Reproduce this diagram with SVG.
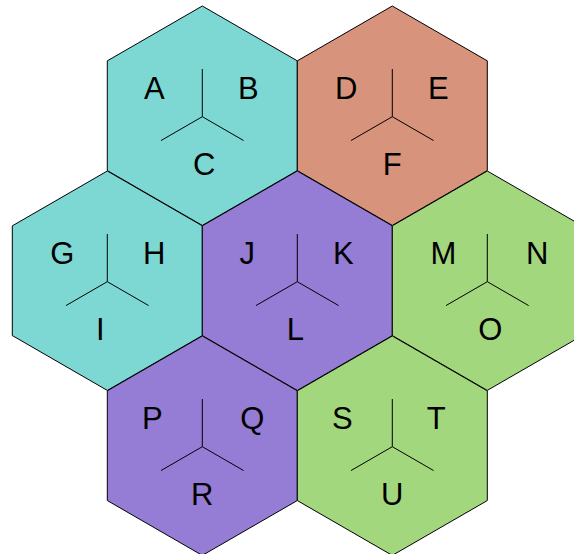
<svg xmlns="http://www.w3.org/2000/svg" width="574" height="554" viewBox="0 0 574 554">
<defs>
<style>
.hex{stroke:#000;stroke-width:1}
.teal{fill:#7dd8d4}.salmon{fill:#d7937b}.purple{fill:#957cd5}.green{fill:#a2d77d}
.y{stroke:#000;stroke-width:1;fill:none}
text{font-family:"Liberation Sans",Arial,sans-serif;font-size:31px;fill:#000;text-anchor:middle}
</style>
<polygon id="hx" points="0,-109.7 95,-54.85 95,54.85 0,109.7 -95,54.85 -95,-54.85"/>
<path id="yy" d="M0,-47.7V0M0,0L-41.3,23.85M0,0L41.3,23.85"/>
</defs>
<rect width="574" height="554" fill="#fff"/>
<g id="hex-ABC" transform="translate(202.3,115.7)">
<use href="#hx" class="hex teal"/><use href="#yy" class="y" transform="translate(0,1)"/>
<text x="-48" y="-17">A</text><text x="46" y="-17">B</text><text x="2" y="59">C</text>
</g>
<g id="hex-DEF" transform="translate(392.3,115.7)">
<use href="#hx" class="hex salmon"/><use href="#yy" class="y" transform="translate(0,1)"/>
<text x="-46" y="-17">D</text><text x="46" y="-17">E</text><text x="0" y="59">F</text>
</g>
<g id="hex-GHI" transform="translate(107.3,280.7)">
<use href="#hx" class="hex teal"/><use href="#yy" class="y" transform="translate(0,1)"/>
<text x="-45" y="-17">G</text><text x="47" y="-17">H</text><text x="-7" y="59">I</text>
</g>
<g id="hex-JKL" transform="translate(297.3,280.7)">
<use href="#hx" class="hex purple"/><use href="#yy" class="y" transform="translate(0,1)"/>
<text x="-50" y="-17">J</text><text x="46" y="-17">K</text><text x="-2" y="59">L</text>
</g>
<g id="hex-MNO" transform="translate(487.3,280.7)">
<use href="#hx" class="hex green"/><use href="#yy" class="y" transform="translate(0,1)"/>
<text x="-44" y="-17">M</text><text x="50" y="-17">N</text><text x="3" y="59">O</text>
</g>
<g id="hex-PQR" transform="translate(202.3,445.7)">
<use href="#hx" class="hex purple"/><use href="#yy" class="y" transform="translate(0,1)"/>
<text x="-50" y="-17">P</text><text x="50" y="-17">Q</text><text x="0" y="59">R</text>
</g>
<g id="hex-STU" transform="translate(392.3,445.7)">
<use href="#hx" class="hex green"/><use href="#yy" class="y" transform="translate(0,1)"/>
<text x="-50" y="-17">S</text><text x="44" y="-17">T</text><text x="0" y="59">U</text>
</g>
<g id="connectors"/>
</svg>
